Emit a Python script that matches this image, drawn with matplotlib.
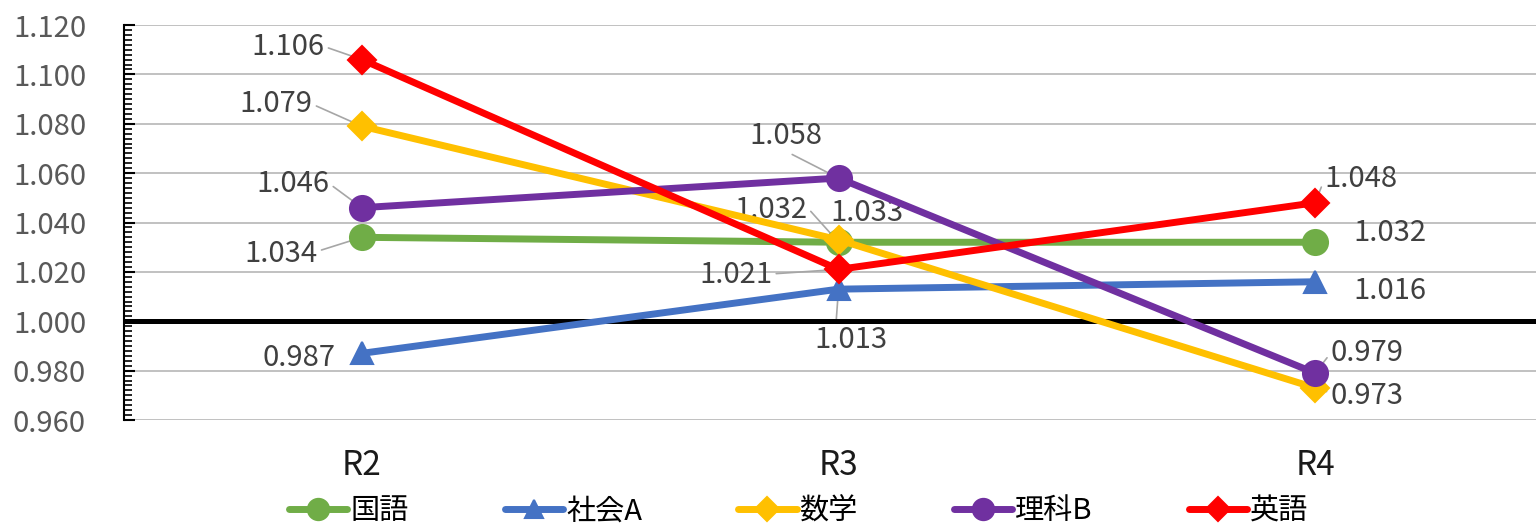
import matplotlib
matplotlib.use("Agg")
import matplotlib.pyplot as plt
from matplotlib.ticker import MultipleLocator, FormatStrFormatter

plt.rcParams['font.family'] = ['Noto Sans CJK JP', 'DejaVu Sans']

categories = ["R2", "R3", "R4"]
series_names = ["国語", "社会A", "数学", "理科B", "英語"]
kokugo = [1.034, 1.032, 1.032]
shakai_a = [0.987, 1.013, 1.016]
sugaku = [1.079, 1.033, 0.973]
rika_b = [1.046, 1.058, 0.979]
eigo = [1.106, 1.021, 1.048]

series_values = [kokugo, shakai_a, sugaku, rika_b, eigo]
colors = ["#70AD47", "#4472C4", "#FFC000", "#7030A0", "#FF0000"]
markers = ["o", "^", "D", "o", "D"]
marker_sizes = [18, 16, 14, 18, 14]

# label placement per series and category: (dx, dy) in pixels from the point,
# and where the leader attaches on the text box (None = no leader)
label_layout = {
    0: [((-81, -17), (1.0, 0.6)), ((-68, 32), (1.0, 0.6)), ((75, 9), None)],
    1: [((-63, -5), None), ((12, -51), (0.3, 1.0)), ((75, -9), None)],
    2: [((-86, 22), (1.0, 0.5)), ((28, 27), None), ((52, -8), (0.0, 0.6))],
    3: [((-69, 24), (1.0, 0.5)), ((-53, 42), (0.5, 0.0)), ((52, 20), (0.0, 0.5))],
    4: [((-74, 13), (1.0, 0.5)), ((-103, -6), (1.0, 0.55)), ((46, 24), (0.0, 0.5))],
}

fig = plt.figure(figsize=(15.36, 5.26), dpi=100)
ax = fig.add_axes([123.5 / 1536, 106 / 526, 1430 / 1536, 395 / 526])

x = list(range(len(categories)))
for i, (name, vals) in enumerate(zip(series_names, series_values)):
    ax.plot(x, vals, color=colors[i], lw=5, marker=markers[i],
            markersize=marker_sizes[i], markeredgewidth=1.5,
            markeredgecolor=colors[i], label=name,
            zorder=4 + i * 0.1, solid_capstyle='round')
    for j, v in enumerate(vals):
        (dx, dy), rel = label_layout[i][j]
        kw = {}
        if rel is not None:
            kw['arrowprops'] = dict(arrowstyle='-', color='#A6A6A6', lw=1.2,
                                    shrinkA=1, shrinkB=0, relpos=rel)
        ax.annotate(f"{v:.3f}", xy=(j, v), xytext=(dx, dy),
                    textcoords='offset pixels', ha='center', va='center',
                    fontsize=21, color='#404040', zorder=3, **kw)

ax.axhline(1.0, color='black', lw=3.6, zorder=3.5)

ax.set_xlim(-0.5, 2.5)
ax.set_ylim(0.96, 1.12)
ax.yaxis.set_major_locator(MultipleLocator(0.02))
ax.yaxis.set_minor_locator(MultipleLocator(0.002))
ax.yaxis.set_major_formatter(FormatStrFormatter('%.3f'))
ax.grid(axis='y', which='major', color='#B0B0B0', lw=1.1, zorder=1)
ax.set_axisbelow(True)

for side in ['top', 'right', 'bottom']:
    ax.spines[side].set_visible(False)
ax.spines['left'].set_linewidth(1.5)
ax.spines['left'].set_color('black')

ax.tick_params(axis='y', which='major', direction='in', length=8, width=1.5,
               labelsize=21, labelcolor='#595959', pad=27)
ax.tick_params(axis='y', which='minor', direction='in', length=6, width=1.2)
ax.set_xticks(x)
ax.set_xticklabels(categories)
ax.tick_params(axis='x', length=0, labelsize=24, labelcolor='#1A1A1A', pad=20)

fig.legend(loc='center', bbox_to_anchor=(0.52, 0.028), ncol=5, frameon=False,
           fontsize=21, handlelength=2.0, columnspacing=3.3, handletextpad=0.1,
           labelcolor='#000000', markerscale=0.85)

fig.savefig("out.png", dpi=100)
